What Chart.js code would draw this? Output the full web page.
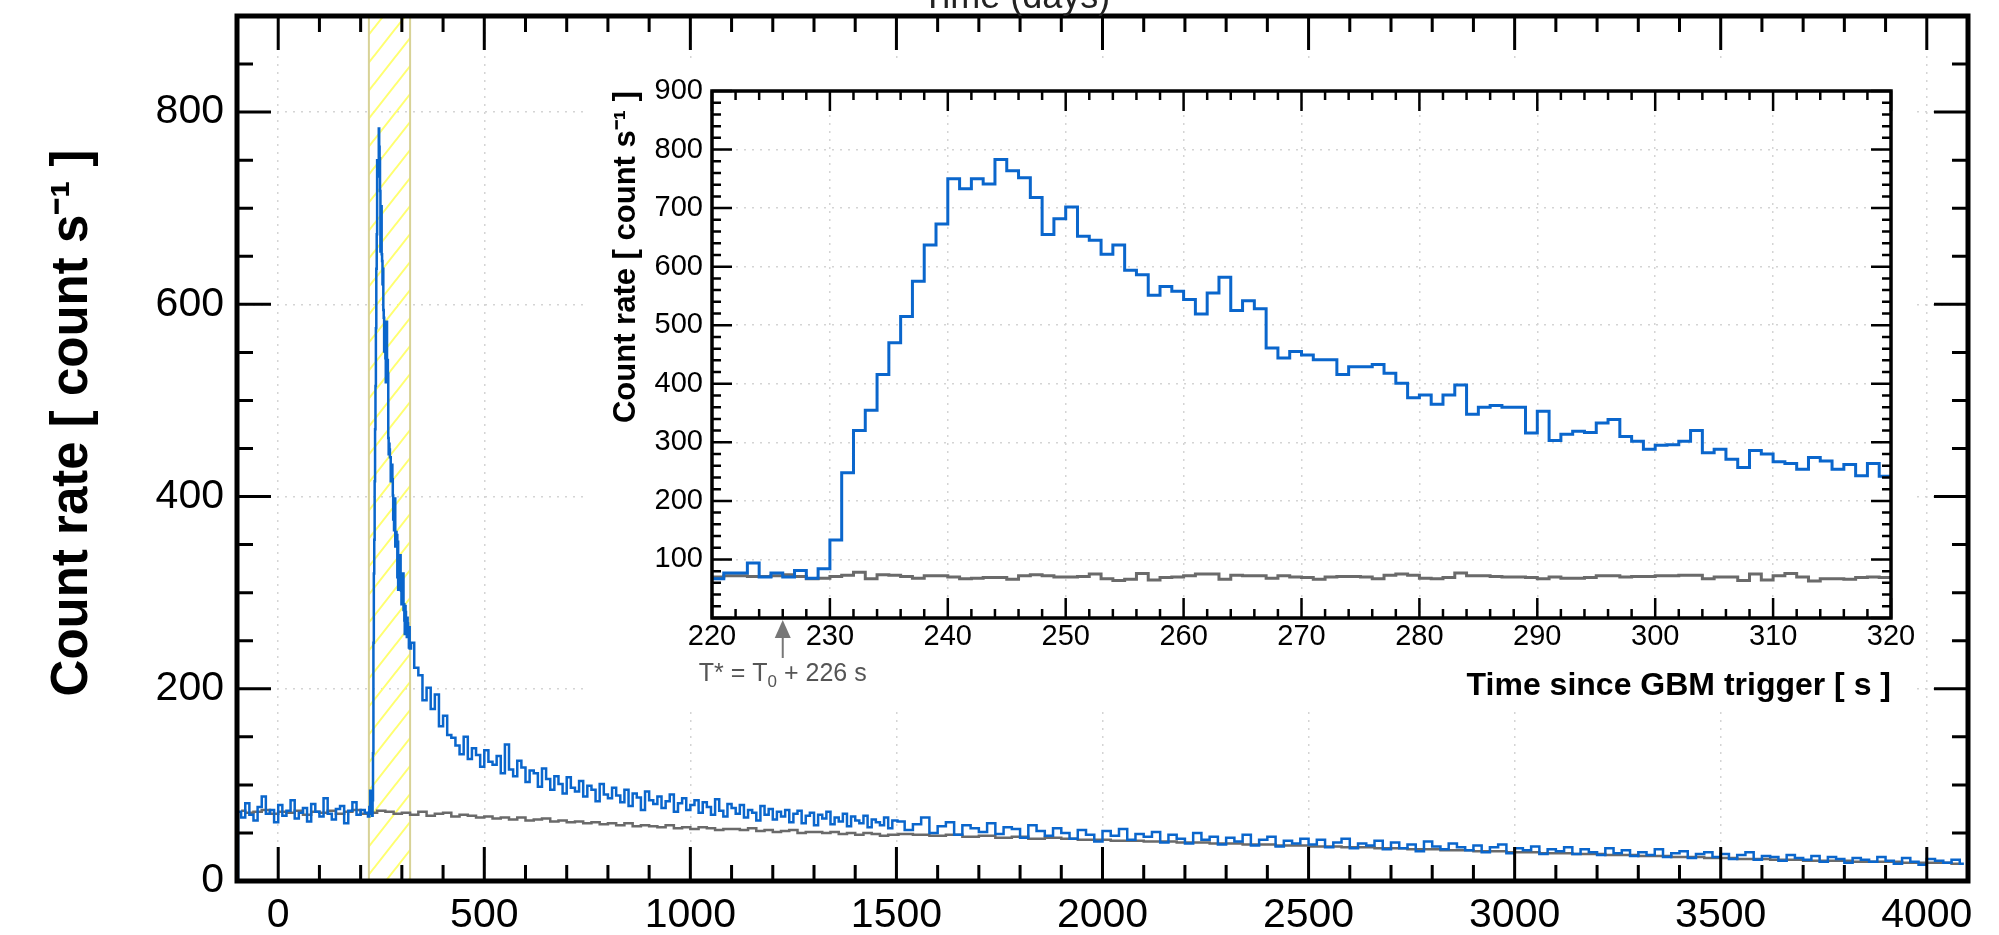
<!DOCTYPE html>
<html>
<head>
<meta charset="utf-8">
<script src="https://cdn.jsdelivr.net/npm/chart.js@4.4.1/dist/chart.umd.min.js"></script>
<style>
  html, body { margin: 0; padding: 0; background: #fff; }
  #wrap { position: relative; width: 1999px; height: 935px; overflow: hidden; }
  #main { position: absolute; left: 0; top: 0; }
  #inset { position: absolute; left: 585px; top: 60px; background: #fff; }
  #topTitle { position: absolute; top: -22px; left: 0; width: 2032px; text-align: center;
              font: 36px "Liberation Sans", Arial, sans-serif; line-height: 36px; color: #222; }
</style>
</head>
<body>
<div id="wrap">
  <canvas id="main" width="1999" height="935"></canvas>
  <canvas id="inset" width="1330" height="650"></canvas>
  <div id="topTitle">Time (days)</div>
</div>
<script>
"use strict";

// ---- data (count rate, counts per second) ----
// before the burst, 10 s bins from -100 s
var preStart = -100, preWidth = 10;
var preBlue = [72, 66, 81, 69, 63, 77, 88, 70, 74, 61, 79, 68, 73, 84, 65, 71,
  76, 62, 80, 72, 67, 86, 70, 64, 75, 78, 60, 73, 82, 69, 74, 71];

// burst, 1 s bins from 220 s (also shown in the inset)
var burstStart = 220;
var burstBlue = [67, 77, 77, 94, 70, 77, 70, 81, 68, 84,
  133, 248, 320, 355, 416, 470, 515, 575, 637, 673,
  750, 733, 750, 741, 783, 764, 752, 718, 655, 682,
  702, 652, 645, 621, 637, 594, 586, 551, 566, 558,
  544, 519, 555, 582, 525, 542, 528, 461, 444, 455,
  449, 441, 441, 416, 429, 429, 433, 418, 401, 376,
  381, 365, 381, 398, 348, 360, 363, 360, 360, 316,
  353, 303, 314, 319, 317, 333, 339, 310, 302, 288,
  295, 296, 302, 320, 282, 288, 271, 257, 286, 280,
  267, 264, 254, 274, 268, 254, 262, 243, 264, 242];
var burstGray = [70, 72, 72, 71, 71, 72, 74, 71, 67, 68,
  71, 73, 78, 67, 74, 73, 71, 68, 72, 72,
  70, 67, 68, 69, 69, 66, 72, 74, 72, 70,
  70, 71, 75, 67, 64, 66, 76, 65, 69, 70,
  72, 75, 75, 66, 73, 72, 72, 68, 72, 70,
  69, 66, 70, 71, 71, 70, 67, 73, 75, 73,
  68, 67, 69, 77, 72, 72, 71, 70, 70, 69,
  67, 70, 68, 68, 69, 72, 72, 70, 71, 71,
  72, 72, 73, 73, 67, 70, 70, 64, 75, 65,
  72, 76, 70, 63, 67, 67, 66, 69, 70, 69];

// decay, 10 s bins from 320 s
var tailStart = 320, tailWidth = 10;
var tailBlue = [248, 222, 214, 188, 201, 179, 194, 161, 172, 152,
  149, 141, 132, 150, 127, 138, 131, 119, 136, 124,
  121, 130, 112, 142, 116, 109, 125, 118, 103, 115,
  112, 98, 117, 106, 95, 109, 101, 91, 108, 97,
  93, 104, 88, 99, 95, 83, 101, 90, 86, 97,
  89, 82, 95, 78, 91, 87, 74, 93, 84, 80,
  88, 76, 83, 90, 72, 81, 86, 74, 79, 84,
  71, 82, 77, 69, 85, 73, 67, 80, 76, 70,
  79, 66, 74, 71, 63, 78, 69, 75, 64, 72,
  67, 74, 61, 70, 73, 60, 68, 71, 58, 69,
  65, 72, 59, 66, 62, 70, 57, 67, 63, 60,
  68, 56, 64, 61, 58, 66, 55, 63];

// late tail, 20 s bins from 1500 s
var farStart = 1500, farWidth = 20;
var farBlue = [62, 53, 59, 66, 50, 57, 61, 48, 58, 55,
  51, 60, 49, 56, 54, 45, 58, 52, 47, 55,
  50, 44, 53, 48, 41, 52, 47, 54, 43, 49,
  46, 51, 40, 48, 44, 39, 50, 43, 46, 38,
  45, 41, 48, 37, 43, 46, 36, 42, 39, 44,
  38, 43, 35, 40, 44, 34, 39, 37, 42, 33,
  40, 34, 38, 31, 41, 36, 33, 39, 35, 32,
  37, 30, 35, 38, 29, 34, 32, 36, 28, 33,
  31, 35, 28, 33, 30, 27, 34, 29, 32, 26,
  30, 27, 33, 25, 29, 31, 24, 28, 30, 25,
  28, 23, 27, 30, 22, 26, 25, 21, 27, 24,
  22, 26, 20, 25, 23, 19, 24, 22, 20, 25,
  21, 18, 24, 20, 17, 23, 21, 19, 22, 18];

// background estimate (grey)
var grayStart = -100, grayWidth = 20;
var nearGray = [73, 71, 72, 74, 70, 72, 71, 73, 69, 72,
  71, 73, 70, 72, 74, 70, 71, 73, 72, 70,
  71, 69, 72, 68, 70, 71, 67, 69, 68, 66,
  67, 65, 66, 64, 66, 63, 64, 65, 62, 63,
  61, 62, 60, 61, 59, 60, 58, 60, 57, 58,
  57, 56, 58, 55, 56, 54, 56, 55, 53, 54,
  54, 53, 55, 52, 53, 51, 52, 53, 50, 51,
  51, 50, 51, 49, 50, 48, 50, 49, 47, 48];
var farGrayStart = 1500, farGrayWidth = 40;
var farGray = [49, 48, 47, 48, 46, 47, 45, 46, 44, 45,
  44, 43, 43, 42, 42, 41, 41, 40, 40, 39,
  39, 38, 38, 37, 37, 36, 36, 35, 35, 34,
  34, 33, 33, 32, 32, 31, 31, 30, 30, 29,
  29, 28, 28, 27, 27, 26, 26, 25, 25, 24,
  24, 23, 23, 22, 22, 21, 21, 21, 20, 20,
  20, 19, 19, 19, 18];

// highlighted window and trigger mark
var bandRange = [220, 320];
var triggerShift = 226;

// tick labels
var mainXTicks = [0, 500, 1000, 1500, 2000, 2500, 3000, 3500, 4000];
var mainYTicks = [0, 200, 400, 600, 800];
var insetXTicks = [220, 230, 240, 250, 260, 270, 280, 290, 300, 310, 320];
var insetYTicks = [100, 200, 300, 400, 500, 600, 700, 800, 900];

// ---- helpers ----
var blue = "#0a66cc";
var gray = "#6a6a6a";
Chart.defaults.font.family = '"Liberation Sans", Arial, Helvetica, sans-serif';
Chart.defaults.color = "#000";

function binned(start, width, values) {
  return values.map(function(v, i) { return {x: start + (i + 0.5) * width, y: v}; });
}
function steps(start, values) {
  var pts = values.map(function(v, i) { return {x: start + i, y: v}; });
  pts.push({x: start + values.length, y: values[values.length - 1]});
  return pts;
}
function hatch() {
  var c = document.createElement("canvas");
  c.width = 22; c.height = 28;
  var g = c.getContext("2d");
  g.strokeStyle = "#ffff70";
  g.lineWidth = 2;
  g.beginPath();
  g.moveTo(0, 28); g.lineTo(22, 0);
  g.moveTo(-11, 14); g.lineTo(11, -14);
  g.moveTo(11, 42); g.lineTo(33, 14);
  g.stroke();
  return g.createPattern(c, "repeat");
}

// frame with ticks pointing inward on all four sides
function frame(o) {
  return {
    id: "frame",
    afterDatasetsDraw: function(chart) {
      var ctx = chart.ctx, a = chart.chartArea;
      var xs = chart.scales.x, ys = chart.scales.y;
      ctx.save();
      ctx.strokeStyle = "#000";
      ctx.lineWidth = o.tickWidth;
      ctx.beginPath();
      var v, p, len;
      for (v = Math.ceil(xs.min / o.xMinor) * o.xMinor; v <= xs.max; v += o.xMinor) {
        p = xs.getPixelForValue(v);
        len = o.xMajor.indexOf(v) >= 0 ? o.majorLen : o.minorLen;
        ctx.moveTo(p, a.bottom); ctx.lineTo(p, a.bottom - len);
        ctx.moveTo(p, a.top); ctx.lineTo(p, a.top + len);
      }
      for (v = Math.ceil(ys.min / o.yMinor) * o.yMinor; v <= ys.max; v += o.yMinor) {
        p = ys.getPixelForValue(v);
        len = o.yMajor.indexOf(v) >= 0 ? o.majorLen : o.minorLen;
        ctx.moveTo(a.left, p); ctx.lineTo(a.left + len, p);
        ctx.moveTo(a.right, p); ctx.lineTo(a.right - len, p);
      }
      ctx.stroke();
      ctx.lineWidth = o.border;
      ctx.strokeRect(a.left, a.top, a.right - a.left, a.bottom - a.top);
      ctx.restore();
    }
  };
}

function fixedTicks(list) {
  return function(s) { s.ticks = list.map(function(v) { return {value: v}; }); };
}
// pin a scale's size and drop the label overhang padding so the plot box stays put
function pinSize(key, size) {
  return function(s) {
    s[key] = size;
    s.paddingTop = 0; s.paddingBottom = 0; s.paddingLeft = 0; s.paddingRight = 0;
  };
}

// ---- main panel ----
var mainBlue = [{x: preStart, y: 0}].concat(
  binned(preStart, preWidth, preBlue),
  binned(burstStart, 1, burstBlue),
  binned(tailStart, tailWidth, tailBlue),
  binned(farStart, farWidth, farBlue));
var mainGray = binned(grayStart, grayWidth, nearGray).concat(binned(farGrayStart, farGrayWidth, farGray));
var band = [
  {x: bandRange[0], y: 0}, {x: bandRange[0], y: 900},
  {x: bandRange[1], y: 900}, {x: bandRange[1], y: 0}];

new Chart(document.getElementById("main"), {
  type: "line",
  data: {
    datasets: [
      {data: mainBlue, borderColor: blue, borderWidth: 2.5, pointRadius: 0, fill: false,
       stepped: "middle", order: 1},
      {data: mainGray, borderColor: gray, borderWidth: 2.5, pointRadius: 0, fill: false,
       stepped: "middle", order: 2},
      {data: band, borderColor: "#d8d296", borderWidth: 2, backgroundColor: hatch(),
       fill: "origin", pointRadius: 0, order: 3}
    ]
  },
  options: {
    responsive: false,
    animation: false,
    devicePixelRatio: 1,
    layout: {padding: {top: 16, right: 31, left: 0, bottom: 0}},
    plugins: {legend: {display: false}, tooltip: {enabled: false}},
    scales: {
      x: {
        type: "linear", min: -100, max: 4100,
        afterBuildTicks: fixedTicks(mainXTicks),
        afterFit: pinSize("height", 54),
        grid: {color: "#d4d4d4", lineWidth: 1.5, drawTicks: false},
        border: {display: false, dash: [2, 6]},
        ticks: {padding: 10, font: {size: 41}, maxRotation: 0, autoSkip: false,
                callback: function(v) { return String(v); }}
      },
      y: {
        type: "linear", min: 0, max: 900,
        afterBuildTicks: fixedTicks(mainYTicks),
        afterFit: pinSize("width", 237),
        grid: {color: "#d4d4d4", lineWidth: 1.5, drawTicks: false},
        border: {display: false, dash: [2, 6]},
        ticks: {padding: 13, font: {size: 41}, autoSkip: false,
                callback: function(v) { return String(v); }},
        title: {display: true, text: "\u2003Count rate [ count s\u207B\u00B9 ]",
                font: {size: 51, weight: "bold"}, padding: {top: 42, bottom: 0}}
      }
    }
  },
  plugins: [frame({xMajor: mainXTicks, xMinor: 100, yMajor: mainYTicks, yMinor: 50,
                   majorLen: 34, minorLen: 16, tickWidth: 3, border: 5})]
});

// ---- inset: zoom on the burst ----
var trigger = {
  id: "trigger",
  afterDraw: function(chart) {
    var ctx = chart.ctx;
    var p = chart.scales.x.getPixelForValue(triggerShift);
    var b = chart.chartArea.bottom;
    ctx.save();
    ctx.strokeStyle = "#777"; ctx.fillStyle = "#777"; ctx.lineWidth = 2;
    ctx.beginPath(); ctx.moveTo(p, b + 40); ctx.lineTo(p, b + 15); ctx.stroke();
    ctx.beginPath(); ctx.moveTo(p, b + 2); ctx.lineTo(p - 8, b + 20); ctx.lineTo(p + 8, b + 20);
    ctx.closePath(); ctx.fill();
    var big = '25px "Liberation Sans", Arial, sans-serif';
    var small = '17px "Liberation Sans", Arial, sans-serif';
    var a = "T* = T", s = "0", c = " + " + triggerShift + " s";
    ctx.font = big; var wa = ctx.measureText(a).width, wc = ctx.measureText(c).width;
    ctx.font = small; var ws = ctx.measureText(s).width;
    var x0 = p - (wa + ws + wc) / 2, y = b + 63;
    ctx.fillStyle = "#555"; ctx.textBaseline = "alphabetic"; ctx.textAlign = "left";
    ctx.font = big; ctx.fillText(a, x0, y);
    ctx.font = small; ctx.fillText(s, x0 + wa, y + 6);
    ctx.font = big; ctx.fillText(c, x0 + wa + ws, y);
    ctx.restore();
  }
};

new Chart(document.getElementById("inset"), {
  type: "line",
  data: {
    datasets: [
      {data: steps(burstStart, burstBlue), borderColor: blue, borderWidth: 3, pointRadius: 0,
       stepped: "before", fill: false, order: 1},
      {data: steps(burstStart, burstGray), borderColor: gray, borderWidth: 3, pointRadius: 0,
       stepped: "before", fill: false, order: 2}
    ]
  },
  options: {
    responsive: false,
    animation: false,
    devicePixelRatio: 1,
    layout: {padding: {top: 31, right: 24, left: 0, bottom: 0}},
    plugins: {legend: {display: false}, tooltip: {enabled: false}},
    scales: {
      x: {
        type: "linear", min: 220, max: 320,
        afterBuildTicks: fixedTicks(insetXTicks),
        afterFit: pinSize("height", 92),
        grid: {color: "#d4d4d4", lineWidth: 1.5, drawTicks: false},
        border: {display: false, dash: [2, 6]},
        ticks: {padding: 2, font: {size: 29}, maxRotation: 0, autoSkip: false,
                callback: function(v) { return String(v); }},
        title: {display: true, text: "Time since GBM trigger [ s ]", align: "end",
                font: {size: 32, weight: "bold"}, padding: {top: 0, bottom: 5}}
      },
      y: {
        type: "linear", min: 0, max: 900,
        afterBuildTicks: fixedTicks(insetYTicks),
        afterFit: pinSize("width", 127),
        grid: {color: "#d4d4d4", lineWidth: 1.5, drawTicks: false},
        border: {display: false, dash: [2, 6]},
        ticks: {padding: 9, font: {size: 29}, autoSkip: false,
                callback: function(v) { return String(v); }},
        title: {display: true, text: "Count rate [ count s\u207B\u00B9 ]", align: "end",
                font: {size: 31, weight: "bold"}, padding: {top: 23, bottom: 0}}
      }
    }
  },
  plugins: [frame({xMajor: insetXTicks, xMinor: 2, yMajor: insetYTicks.concat([0]), yMinor: 20,
                   majorLen: 20, minorLen: 9, tickWidth: 2.5, border: 3.5}), trigger]
});
</script>
</body>
</html>
